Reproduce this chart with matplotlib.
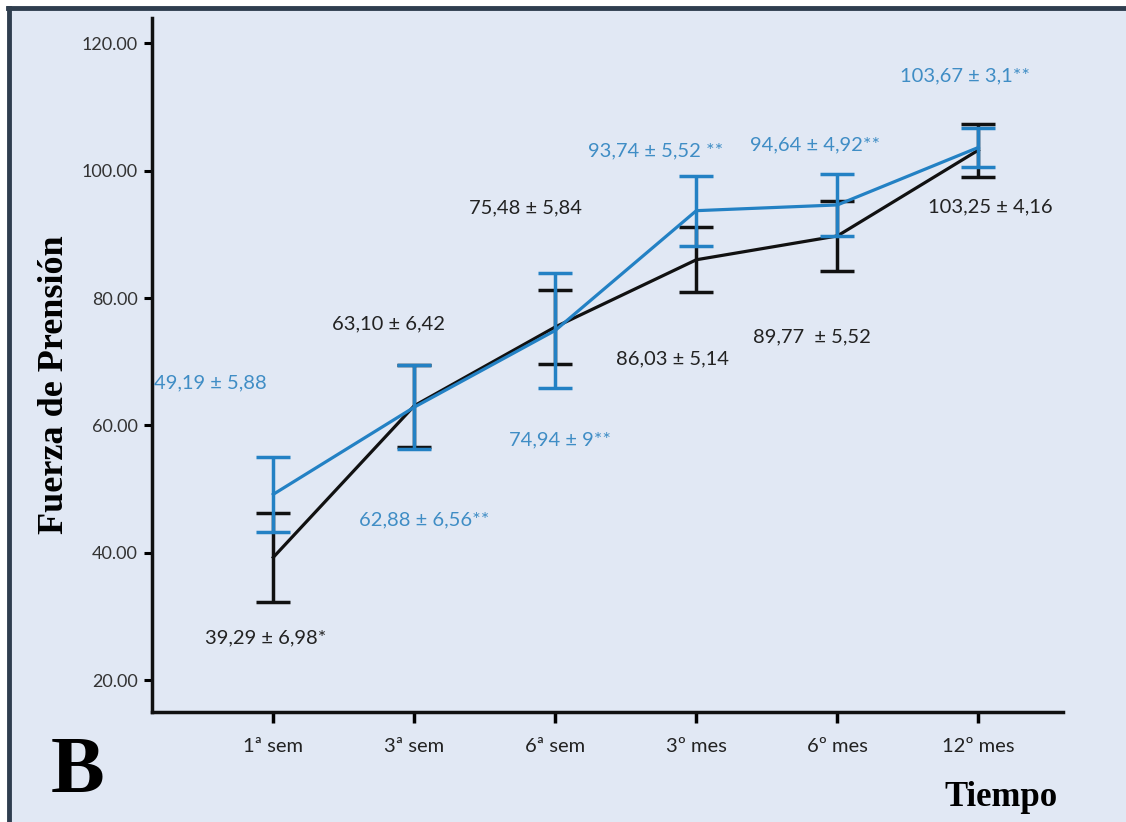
import matplotlib.pyplot as plt
import numpy as np

# data
tiempo = ['1ª sem', '3ª sem', '6ª sem', '3º mes', '6º mes', '12º mes']
media_a = [39.29, 63.10, 75.48, 86.03, 89.77, 103.25]
de_a = [6.98, 6.42, 5.84, 5.14, 5.52, 4.16]
media_b = [49.19, 62.88, 74.94, 93.74, 94.64, 103.67]
de_b = [5.88, 6.56, 9.0, 5.52, 4.92, 3.1]
etiq_a = ['39,29 ± 6,98*', '63,10 ± 6,42', '75,48 ± 5,84',
          '86,03 ± 5,14', '89,77  ± 5,52', '103,25 ± 4,16']
etiq_b = ['49,19 ± 5,88', '62,88 ± 6,56**', '74,94 ± 9**',
          '93,74 ± 5,52 **', '94,64 ± 4,92**', '103,67 ± 3,1**']

# label offsets from each point (pixels)
off_a = [(-8, -81), (-26, 82), (-30, 119), (-24, -99), (-25, -101), (12, -57)]
off_b = [(-63, 111), (10, -113), (5, -110), (-41, 60), (-22, 60), (-13, 72)]

fondo = '#e1e8f4'
azul = '#2381c4'
azul_txt = '#3f8dc5'
negro = '#111111'

fig = plt.figure(figsize=(11.26, 8.22), dpi=100)
fig.patch.set_facecolor('white')

# panel background and border
fig.patches.append(plt.Rectangle((8 / 1126, 0), 1, 1 - 8 / 822, transform=fig.transFigure,
                                 facecolor=fondo, edgecolor='none', zorder=-2))
fig.add_artist(plt.Line2D([8 / 1126, 1], [1 - 8.5 / 822] * 2, transform=fig.transFigure,
                          color='#2f3e4f', lw=3.5))
fig.add_artist(plt.Line2D([8.5 / 1126] * 2, [0, 1 - 8 / 822], transform=fig.transFigure,
                          color='#2f3e4f', lw=3.5))

ax = fig.add_axes([152 / 1126, 1 - 712 / 822, (1063 - 152) / 1126, (712 - 18) / 822])
ax.set_facecolor('none')

x = np.arange(len(tiempo))
ax.errorbar(x, media_a, yerr=de_a, color=negro, lw=2.3, elinewidth=2.5,
            capsize=12, capthick=2.5, zorder=3)
ax.errorbar(x, media_b, yerr=de_b, color=azul, lw=2.3, elinewidth=2.5,
            capsize=12, capthick=2.5, zorder=4)

for xi, yi, t, o in zip(x, media_a, etiq_a, off_a):
    ax.annotate(t, (xi, yi), xytext=o, textcoords='offset pixels', ha='center', va='center',
                fontsize=14.5, color='#222222', family='Lato')
for xi, yi, t, o in zip(x, media_b, etiq_b, off_b):
    ax.annotate(t, (xi, yi), xytext=o, textcoords='offset pixels', ha='center', va='center',
                fontsize=14.5, color=azul_txt, family='Lato')

ax.set_xlim(-0.86, 5.6)
ax.set_ylim(15, 124)
ax.set_yticks([20, 40, 60, 80, 100, 120])
ax.set_yticklabels(['%.2f' % v for v in [20, 40, 60, 80, 100, 120]])
ax.set_xticks(x)
ax.set_xticklabels(tiempo)

for s in ['top', 'right']:
    ax.spines[s].set_visible(False)
for s in ['left', 'bottom']:
    ax.spines[s].set_linewidth(2.5)
    ax.spines[s].set_color(negro)

ax.tick_params(axis='y', direction='out', length=6, width=2.2, pad=4,
               labelsize=13, labelcolor='#333333')
ax.tick_params(axis='x', direction='out', length=8, width=2.5, pad=11,
               labelsize=14.5, labelcolor='#222222')
for lab in ax.get_xticklabels() + ax.get_yticklabels():
    lab.set_family('Lato')

fig.text(55 / 1126, 1 - 385 / 822, 'Fuerza de Prensión', rotation=90, ha='center', va='center',
         fontsize=26, fontweight='bold', family='Liberation Serif')
fig.text(1001 / 1126, 1 - 797 / 822, 'Tiempo', ha='center', va='center',
         fontsize=25, fontweight='bold', family='Liberation Serif')
fig.text(78 / 1126, 1 - 772 / 822, 'B', ha='center', va='center',
         fontsize=58, fontweight='bold', family='Liberation Serif')

fig.savefig('out.png', dpi=100, facecolor=fig.get_facecolor())
